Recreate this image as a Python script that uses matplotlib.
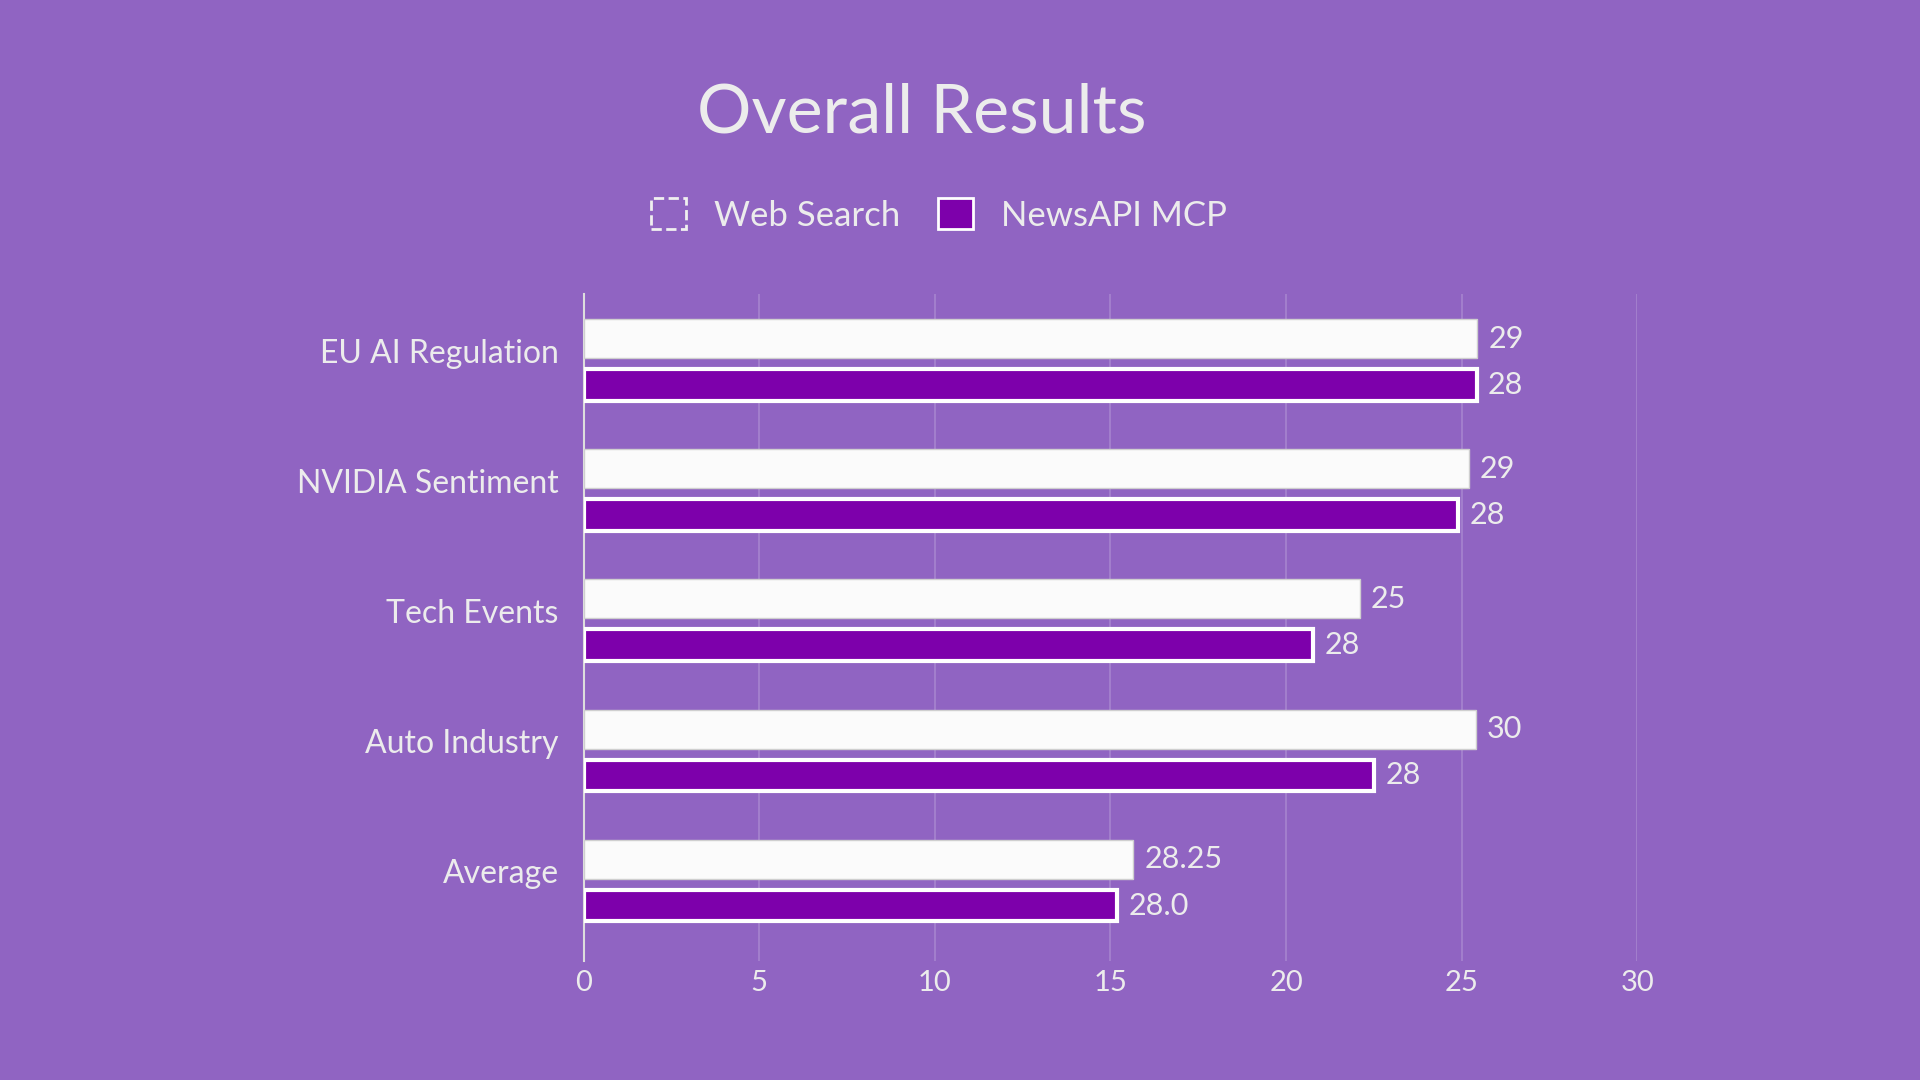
import matplotlib
matplotlib.use("Agg")
import matplotlib.pyplot as plt
from matplotlib.patches import Patch
import numpy as np

plt.rcParams['font.family'] = ['Lato', 'DejaVu Sans']

categories = ['EU AI Regulation', 'NVIDIA Sentiment', 'Tech Events', 'Auto Industry', 'Average']
# bar lengths as drawn in the picture
web_search = [25.45, 25.2, 22.1, 25.4, 15.65]
newsapi_mcp = [25.43, 24.9, 20.77, 22.51, 15.19]
# value texts printed next to the bars
web_labels = ['29', '29', '25', '30', '28.25']
news_labels = ['28', '28', '28', '28', '28.0']
x_ticks = [0, 5, 10, 15, 20, 25, 30]

bg = '#9064c2'
bar_purple = '#7d00ab'
txt = '#ececec'

fig = plt.figure(figsize=(19.2, 10.8), dpi=100, facecolor=bg)
ax = fig.add_axes([0.304, 0.110, 0.5487, 0.6176])
ax.set_facecolor('none')

y = np.arange(len(categories))
off = 0.178
ax.barh(y - off, web_search, height=0.30, color='#fbfbfb', edgecolor='#cfcfcf',
        linewidth=1, zorder=3)
ax.barh(y + off, newsapi_mcp, height=0.244, color=bar_purple, edgecolor='white',
        linewidth=3, zorder=3)

for i in range(len(categories)):
    ax.annotate(web_labels[i], (web_search[i], y[i] - off), xytext=(8, 0),
                textcoords='offset points', va='center', ha='left',
                fontsize=22, color=txt)
    ax.annotate(news_labels[i], (newsapi_mcp[i], y[i] + off), xytext=(8, 0),
                textcoords='offset points', va='center', ha='left',
                fontsize=22, color=txt)

ax.set_xlim(0, 30)
ax.set_ylim(4.606, -0.52)
ax.set_xticks(x_ticks)
ax.set_xticklabels([str(t) for t in x_ticks], fontsize=21, color=txt)
ax.set_yticks(y - 0.085)
ax.set_yticklabels(categories, fontsize=23, color=txt)
ax.tick_params(axis='x', length=0, pad=6)
ax.tick_params(axis='y', length=0, pad=18)
ax.grid(axis='x', color='white', alpha=0.2, linewidth=1.2, zorder=0)
for s in ['top', 'right', 'bottom']:
    ax.spines[s].set_visible(False)
ax.spines['left'].set_color('#dddddd')
ax.spines['left'].set_linewidth(1.5)

fig.text(0.48, 0.895, 'Overall Results', ha='center', va='center',
         fontsize=49, color=txt)

handles = [Patch(facecolor='none', edgecolor='#f0f0f0', linestyle='--', linewidth=2),
           Patch(facecolor=bar_purple, edgecolor='white', linewidth=2)]
leg = fig.legend(handles, ['Web Search', 'NewsAPI MCP'], loc='center',
                 bbox_to_anchor=(0.489, 0.801), ncol=2, frameon=False,
                 fontsize=25, handlelength=1.0, handleheight=1.0,
                 handletextpad=0.8, columnspacing=1.1)
for t in leg.get_texts():
    t.set_color(txt)

fig.savefig('out.png', dpi=100, facecolor=bg)
